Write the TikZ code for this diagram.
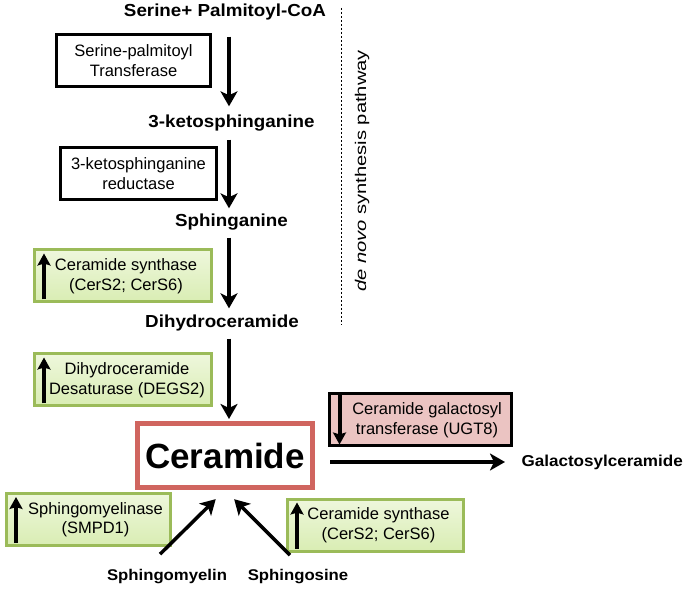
\documentclass[tikz,border=0pt]{standalone}
\usepackage{fontspec}
\setmainfont{Liberation Sans}
\newfontfamily\widefont{Liberation Sans}[FakeStretch=1.08]
\newfontfamily\tallfont{Liberation Sans}[FakeStretch=1.3]
\usetikzlibrary{arrows.meta,shadows}
\usetikzlibrary{positioning}
\definecolor{grntop}{HTML}{EEF7DC}
\definecolor{grnbot}{HTML}{D9EDB3}
\definecolor{grnline}{HTML}{9BBB59}
\definecolor{pinkfill}{HTML}{EBC4C2}
\definecolor{cerred}{HTML}{D0655F}
\tikzstyle{metab}=[font=\widefont\fontsize{17.4}{20}\selectfont\bfseries]
\tikzstyle{small metab}=[font=\widefont\fontsize{15.5}{18}\selectfont\bfseries]
\tikzstyle{enz}=[draw=black,line width=2.5pt,fill=white,align=center,
                font=\fontsize{16.5}{19.5}\selectfont,minimum height=52pt]
\tikzstyle{upenz}=[enz,draw=grnline,line width=3pt,top color=grntop,
                bottom color=grnbot,drop shadow={opacity=0.18,shadow xshift=1.5pt,
                shadow yshift=-1.5pt}]
\tikzstyle{downenz}=[enz,fill=pinkfill,line width=3pt]
\tikzstyle{hub}=[draw=cerred,line width=5pt,fill=white,
                font=\fontsize{35}{40}\selectfont\bfseries,minimum width=175pt,
                minimum height=64pt]
\tikzstyle{conv}=[line width=3.5pt,-{Stealth[length=15pt,width=17pt,inset=4pt]}]
\tikzstyle{regul}=[line width=4pt,-{Stealth[length=12pt,width=13pt,inset=2pt]}]
\tikzstyle{tick}=[line width=1pt,dash pattern=on 2.5pt off 1.5pt]

\begin{document}
\begin{tikzpicture}[x=1pt,y=-1pt]
\useasboundingbox (0,0) rectangle (683,593);
% de novo part
\node[metab] (serine) at (225,12) {Serine+ Palmitoyl-CoA};
\node[enz,minimum width=154pt] (spt) at (133.5,60.5) {Serine-palmitoyl\\Transferase};
\node[metab] (keto) at (231.5,123) {3-ketosphinganine};
\node[enz,minimum width=156pt] (ksr) at (138.5,173.5) {3-ketosphinganine\\reductase};
\node[metab] (sphinganine) at (231.5,222) {Sphinganine};
\node[upenz,minimum width=177pt] (cers1) at (123,276)
  {\hspace*{6pt}Ceramide synthase\\\hspace*{6pt}(CerS2; CerS6)};
\node[metab] (dihydro) at (222,323) {Dihydroceramide};
\node[upenz,minimum width=177pt] (degs) at (123,380)
  {\hspace*{8pt}Dihydroceramide\\\hspace*{8pt}Desaturase (DEGS2)};
\coordinate (axis) at (229,0);
\draw[conv,shorten <=13pt,shorten >=5pt] (serine.south -| axis) -- (keto.north -| axis);
\draw[conv,shorten <=5pt,shorten >=2pt] (keto.south -| axis) -- (sphinganine.north -| axis);
\draw[conv,shorten <=4pt,shorten >=3pt] (sphinganine.south -| axis) -- (dihydro.north -| axis);
\draw[tick] (341,8) -- (341,325);
\node[rotate=90,font=\tallfont\fontsize{15.5}{18}\selectfont] (denovo) at (362,171)
  {\textit{de novo} synthesis pathway};
% ceramide
\node[hub] (cer) at (225,455.5) {Ceramide};
\draw[conv,shorten <=4pt,shorten >=2pt] (dihydro.south -| axis) -- (cer.north -| axis);
\node[downenz,minimum width=182pt] (ugt) at (420,420)
  {\hspace*{14pt}Ceramide galactosyl\\\hspace*{14pt}transferase (UGT8)};
\node[metab,font=\widefont\fontsize{15.8}{18}\selectfont\bfseries,anchor=west]
  (galacto) at (518,462) {Galactosylceramide};
\draw[conv,shorten <=15pt,shorten >=13pt] (cer.east |- galacto.west) -- (galacto.west);
\node[upenz,minimum width=164pt] (smpd) at (88.5,519.5)
  {\hspace*{14pt}Sphingomyelinase\\\hspace*{14pt}(SMPD1)};
\node[upenz,minimum width=176pt] (cers2) at (375.5,525)
  {\hspace*{6pt}Ceramide synthase\\\hspace*{6pt}(CerS2; CerS6)};
\node[small metab] (smyelin) at (167,577) {Sphingomyelin};
\node[small metab] (sosine) at (298,577) {Sphingosine};
\draw[conv,shorten >=13pt] ([shift={(-7pt,12pt)}]smyelin.north) -- (cer.south);
\draw[conv,shorten >=13pt] ([shift={(-8pt,11pt)}]sosine.north) -- (cer.south);
% up / down marks
\foreach \b in {cers1,degs,smpd,cers2}
  \draw[regul] ([shift={(11pt,4pt)}]\b.south west) -- ([shift={(11pt,-5pt)}]\b.north west);
\draw[regul] ([shift={(12pt,-1pt)}]ugt.north west) -- ([shift={(12pt,3pt)}]ugt.south west);
\end{tikzpicture}
\end{document}
